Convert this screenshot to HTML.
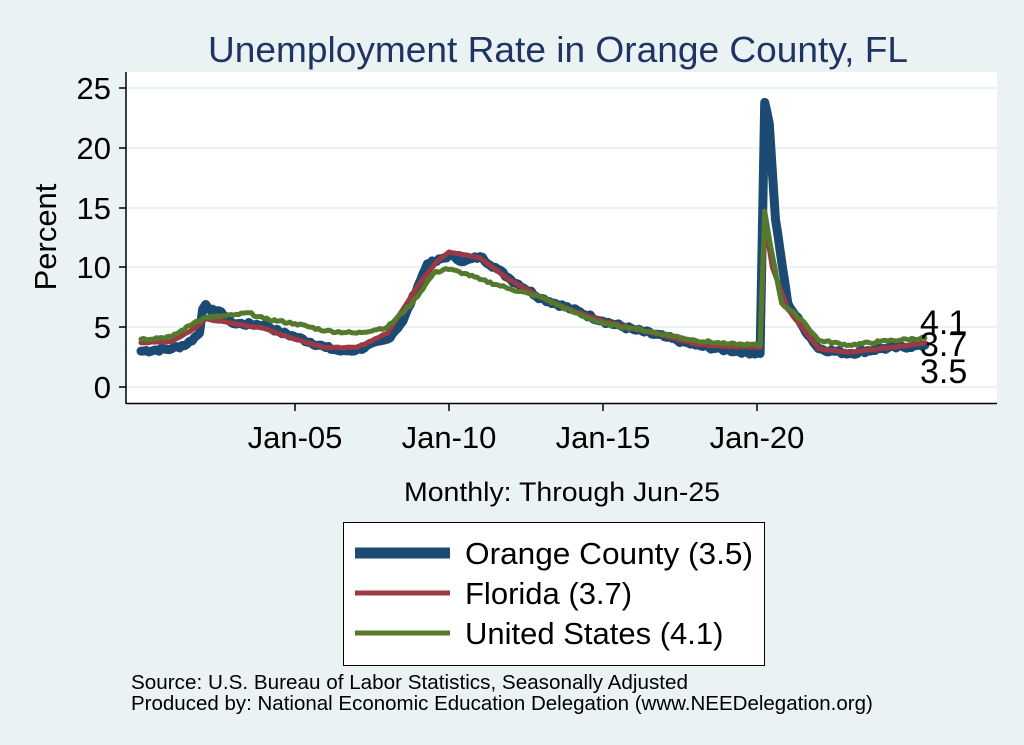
<!DOCTYPE html>
<html><head><style>
body{margin:0;background:#eaf2f3;}
svg{display:block;font-family:"Liberation Sans",sans-serif;}
</style></head><body>
<svg id="s" width="1024" height="745" xmlns="http://www.w3.org/2000/svg">
<rect width="1024" height="745" fill="#eaf2f3"/>
<text x="208" y="62" font-size="36" fill="#1e3461" textLength="700" lengthAdjust="spacingAndGlyphs">Unemployment Rate in Orange  County, FL</text>
<rect x="126" y="72" width="871" height="331" fill="#fff"/>
<g stroke="#eaf2f3" stroke-width="2">
<line x1="126" x2="997" y1="387" y2="387"/><line x1="126" x2="997" y1="327" y2="327"/>
<line x1="126" x2="997" y1="267" y2="267"/><line x1="126" x2="997" y1="208" y2="208"/>
<line x1="126" x2="997" y1="148" y2="148"/><line x1="126" x2="997" y1="88" y2="88"/>
</g>
<g stroke="#000" stroke-width="1.5">
<line x1="126" y1="72" x2="126" y2="404"/><line x1="126" y1="403.5" x2="997" y2="403.5"/>
<line x1="119" x2="126" y1="387" y2="387"/><line x1="119" x2="126" y1="327" y2="327"/>
<line x1="119" x2="126" y1="267" y2="267"/><line x1="119" x2="126" y1="208" y2="208"/>
<line x1="119" x2="126" y1="148" y2="148"/><line x1="119" x2="126" y1="88" y2="88"/>
<line x1="295" x2="295" y1="403" y2="411"/><line x1="449" x2="449" y1="403" y2="411"/>
<line x1="603" x2="603" y1="403" y2="411"/><line x1="757" x2="757" y1="403" y2="411"/>
</g>
<g font-size="31" text-anchor="end">
<text x="111" y="398">0</text><text x="111" y="338">5</text><text x="111" y="278">10</text>
<text x="111" y="219">15</text><text x="111" y="159">20</text><text x="111" y="99">25</text>
</g>
<g font-size="31" text-anchor="middle">
<text x="295" y="448">Jan-05</text><text x="449" y="448">Jan-10</text>
<text x="603" y="448">Jan-15</text><text x="757" y="448">Jan-20</text>
</g>
<text transform="translate(56,237) rotate(-90)" font-size="31" text-anchor="middle">Percent</text>
<g id="lines" fill="none" stroke-linejoin="round" stroke-linecap="round"></g>
<g font-size="34">
<text x="920" y="334">4.1</text><text x="920" y="356">3.7</text><text x="920" y="383">3.5</text>
</g>
<text x="404" y="501" font-size="27" textLength="316" lengthAdjust="spacingAndGlyphs">Monthly: Through Jun-25</text>
<rect x="343.5" y="522.5" width="421" height="143" fill="#fff" stroke="#000" stroke-width="1"/>
<line x1="355" x2="450" y1="553" y2="553" stroke="#1b4a73" stroke-width="11"/>
<line x1="355" x2="450" y1="593" y2="593" stroke="#9b3a42" stroke-width="5"/>
<line x1="355" x2="450" y1="633" y2="633" stroke="#557a2e" stroke-width="5"/>
<g font-size="31"><text x="465" y="564" textLength="288" lengthAdjust="spacingAndGlyphs">Orange  County (3.5)</text><text x="465" y="604">Florida (3.7)</text><text x="465" y="644">United States (4.1)</text></g>
<g font-size="20.5"><text x="131" y="689" textLength="557" lengthAdjust="spacingAndGlyphs">Source: U.S. Bureau of Labor Statistics, Seasonally Adjusted</text>
<text x="131" y="710">Produced by: National Economic Education Delegation (www.NEEDelegation.org)</text></g>
</svg>
<script>
var oc=[[2000,3.0],[2001,3.2],[2001.5,3.6],[2001.9,4.5],[2002.0,6.5],[2002.1,6.9],[2002.4,6.2],[2002.6,6.3],[2003,5.3],[2004,5.2],[2004.5,4.6],[2005,4.2],[2006,3.3],[2006.5,3.0],[2007,3.1],[2008,4.0],[2008.5,5.5],[2009,8.5],[2009.3,10.3],[2009.6,10.5],[2010,11.0],[2010.5,10.5],[2011,10.9],[2011.5,10.0],[2012,9.0],[2013,7.4],[2014,6.5],[2015,5.5],[2016,4.8],[2017,4.2],[2018,3.5],[2019,3.1],[2020.1,2.8],[2020.25,23.8],[2020.4,22],[2020.6,14],[2021,7],[2021.5,5],[2022,3.2],[2023,2.8],[2024,3.2],[2025.45,3.5]];
var fl=[[2000,3.7],[2001,3.8],[2001.8,5.0],[2002.1,5.7],[2003,5.3],[2004,4.9],[2005,4.0],[2006,3.3],[2007,3.3],[2008,4.5],[2009,8.5],[2009.6,10.5],[2010,11.3],[2011,10.8],[2012,8.9],[2013,7.5],[2014,6.4],[2015,5.5],[2016,4.9],[2017,4.3],[2018,3.6],[2019,3.4],[2020.1,3.3],[2020.25,14.0],[2020.5,10],[2021,6.5],[2022,3.2],[2023,2.9],[2024,3.2],[2025.45,3.7]];
var us=[[2000,4.0],[2001,4.2],[2001.8,5.5],[2002.1,5.8],[2003,6.0],[2003.5,6.2],[2004,5.7],[2005,5.3],[2006,4.7],[2007,4.5],[2008,5.0],[2008.8,7.0],[2009.5,9.5],[2009.9,9.9],[2010.5,9.5],[2011,9.0],[2012,8.2],[2013,7.5],[2014,6.3],[2015,5.3],[2016,4.9],[2017,4.4],[2018,3.9],[2019,3.6],[2020.1,3.5],[2020.25,14.7],[2020.5,11],[2020.8,7],[2021.5,5.5],[2022,3.9],[2023,3.5],[2024,3.8],[2025.45,4.1]];
var seed=7;function rnd(){seed=(seed*9301+49297)%233280;return seed/233280-0.5;}
function dense(a,amp){var out=[];for(var i=0;i<a.length-1;i++){var p=a[i],q=a[i+1];var n=Math.max(1,Math.round((q[0]-p[0])*12));for(var k=0;k<n;k++){var t=k/n;out.push([p[0]+(q[0]-p[0])*t,p[1]+(q[1]-p[1])*t+(k>0?rnd()*amp:0)]);}}out.push(a[a.length-1]);return out;}
function pts(a){return a.map(function(p){return (141+(p[0]-2000)*30.8).toFixed(1)+","+(387-11.96*p[1]).toFixed(1)}).join(" ");}
var g=document.getElementById("lines");
[[oc,"#1b4a73",9,0.3],[fl,"#9b3a42",5,0.08],[us,"#557a2e",5,0.2]].forEach(function(s){
var e=document.createElementNS("http://www.w3.org/2000/svg","polyline");
e.setAttribute("points",pts(dense(s[0],s[3])));e.setAttribute("stroke",s[1]);e.setAttribute("stroke-width",s[2]);g.appendChild(e);});
</script>
</body></html>
